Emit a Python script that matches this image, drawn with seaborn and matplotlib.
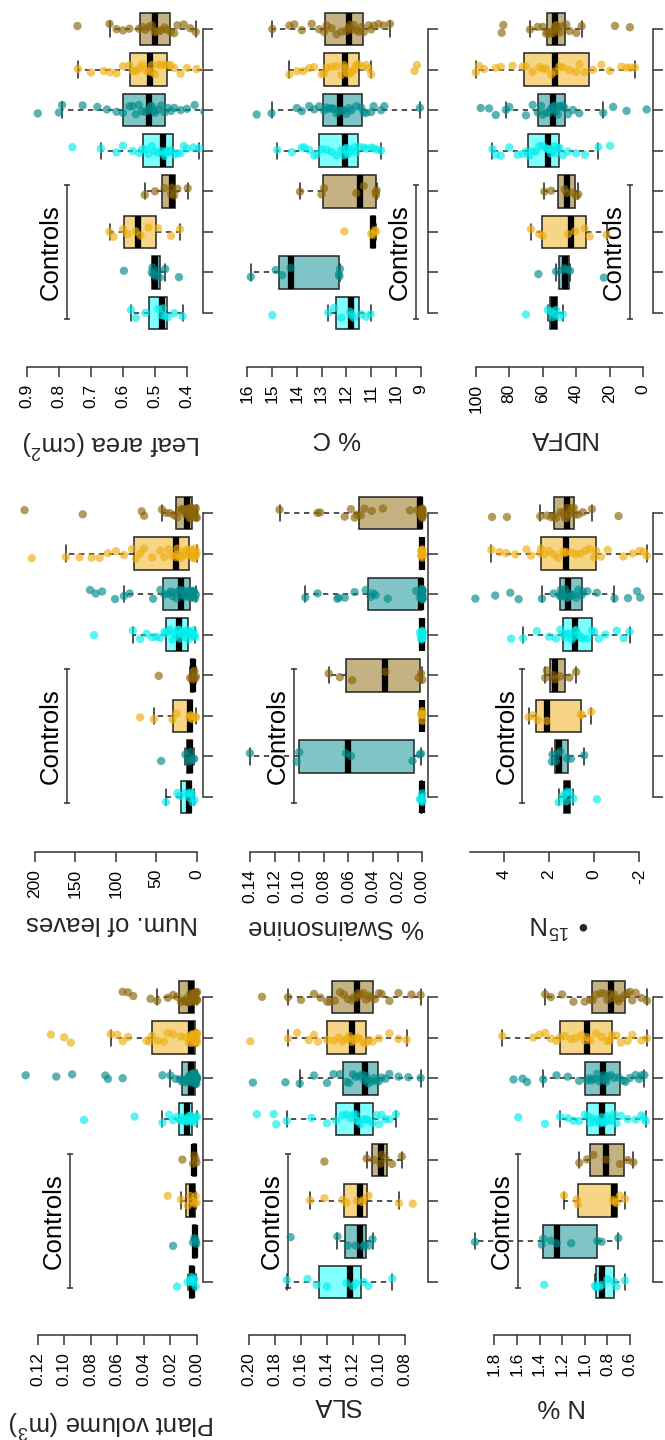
import numpy as np
import pandas as pd
import matplotlib
matplotlib.use("Agg")
import matplotlib.pyplot as plt
import seaborn as sns

# ---------------- data (groups from bottom to top of each panel) ----------------
groups = ["Ctrl cyan", "Ctrl teal", "Ctrl gold", "Ctrl brown",
          "Cyan", "Teal", "Gold", "Brown"]
point_colors = ["#00EEEE", "#008B8B", "#EEAD0E", "#8B6508"] * 2
fill_colors = ["#80FFFF", "#80C5C5", "#F6D686", "#C5B283"] * 2

plant_volume = [
    [0.001, 0.002, 0.003, 0.004, 0.004, 0.005, 0.007, 0.015],
    [0.0005, 0.001, 0.0015, 0.002, 0.003, 0.018],
    [0.0005, 0.001, 0.002, 0.003, 0.005, 0.007, 0.012, 0.022],
    [0.0005, 0.001, 0.002, 0.003, 0.011],
    [0.0, 0.001, 0.002, 0.002, 0.003, 0.003, 0.004, 0.005, 0.005, 0.006, 0.007, 0.007,
     0.008, 0.009, 0.010, 0.011, 0.012, 0.013, 0.015, 0.018, 0.021, 0.026, 0.047, 0.085],
    [0, 0, 0, 0.0005, 0.0005, 0.001, 0.001, 0.001, 0.0015, 0.0015, 0.002, 0.002, 0.0025,
     0.003, 0.003, 0.003, 0.0035, 0.004, 0.004, 0.0045, 0.005, 0.005, 0.006, 0.006, 0.007,
     0.008, 0.009, 0.0095, 0.010, 0.011, 0.013, 0.016, 0.020, 0.026, 0.056, 0.067, 0.069,
     0.094, 0.106, 0.129],
    [0, 0, 0, 0.0005, 0.0005, 0.001, 0.001, 0.001, 0.0015, 0.0015, 0.002, 0.002, 0.0025,
     0.003, 0.003, 0.0035, 0.004, 0.004, 0.0045, 0.005, 0.006, 0.008, 0.012, 0.018, 0.022,
     0.025, 0.030, 0.034, 0.036, 0.038, 0.052, 0.056, 0.060, 0.065, 0.095, 0.100, 0.110],
    [0, 0, 0, 0.0005, 0.001, 0.001, 0.0015, 0.002, 0.002, 0.0025, 0.003, 0.003, 0.0035,
     0.004, 0.004, 0.0045, 0.005, 0.006, 0.007, 0.008, 0.009, 0.010, 0.012, 0.015, 0.018,
     0.022, 0.030, 0.035, 0.048, 0.052, 0.056],
]

num_leaves = [
    [3, 5, 6, 8, 9, 10, 14, 21, 24, 38],
    [3, 5, 7, 8, 10, 14, 44],
    [1, 2, 5, 7, 8, 9, 25, 30, 53, 70],
    [1, 2, 3, 4, 5, 6, 8, 47],
    [2, 3, 4, 5, 6, 8, 9, 10, 11, 12, 14, 15, 17, 18, 20, 21, 22, 23, 25, 27, 30, 33, 35,
     38, 40, 45, 50, 55, 62, 70, 79, 127],
    [1, 2, 3, 4, 5, 5, 6, 7, 9, 10, 12, 13, 14, 15, 16, 18, 20, 22, 25, 28, 30, 32, 35, 40,
     45, 54, 83, 90, 101, 117, 125, 132],
    [0, 1, 2, 3, 4, 5, 6, 7, 8, 10, 12, 15, 18, 20, 22, 24, 25, 26, 30, 35, 40, 45, 55, 65,
     70, 75, 80, 90, 100, 110, 120, 130, 145, 162, 204],
    [0, 1, 1, 2, 3, 4, 5, 5, 6, 7, 8, 9, 10, 11, 11, 12, 13, 14, 15, 17, 19, 21, 24, 28, 33,
     38, 43, 65, 68, 141, 213],
]

leaf_area = [
    [0.414, 0.44, 0.46, 0.47, 0.475, 0.48, 0.49, 0.53, 0.56, 0.575],
    [0.425, 0.468, 0.485, 0.49, 0.50, 0.505, 0.508, 0.51, 0.597],
    [0.422, 0.45, 0.49, 0.52, 0.545, 0.56, 0.586, 0.60, 0.63, 0.642],
    [0.398, 0.43, 0.44, 0.446, 0.45, 0.47, 0.50, 0.532],
    [0.362, 0.38, 0.40, 0.41, 0.42, 0.43, 0.44, 0.45, 0.46, 0.46, 0.465, 0.47, 0.47, 0.48,
     0.49, 0.50, 0.51, 0.52, 0.53, 0.54, 0.55, 0.57, 0.60, 0.62, 0.669, 0.758],
    [0.346, 0.376, 0.40, 0.42, 0.44, 0.45, 0.46, 0.47, 0.48, 0.49, 0.50, 0.505, 0.51, 0.515,
     0.52, 0.53, 0.54, 0.55, 0.56, 0.57, 0.58, 0.60, 0.62, 0.65, 0.68, 0.726, 0.79, 0.80,
     0.866],
    [0.34, 0.37, 0.40, 0.42, 0.44, 0.45, 0.46, 0.47, 0.48, 0.49, 0.50, 0.51, 0.51, 0.52,
     0.53, 0.54, 0.55, 0.56, 0.57, 0.58, 0.60, 0.62, 0.64, 0.66, 0.70, 0.741],
    [0.373, 0.39, 0.41, 0.43, 0.44, 0.45, 0.46, 0.47, 0.48, 0.49, 0.50, 0.50, 0.51, 0.52,
     0.53, 0.54, 0.55, 0.58, 0.60, 0.62, 0.642, 0.742],
]

sla = [
    [0.0897, 0.108, 0.112, 0.118, 0.120, 0.125, 0.14, 0.148, 0.155, 0.171],
    [0.105, 0.108, 0.111, 0.112, 0.118, 0.124, 0.132, 0.168],
    [0.074, 0.0846, 0.108, 0.112, 0.113, 0.117, 0.125, 0.128, 0.142, 0.153],
    [0.0825, 0.09, 0.095, 0.098, 0.099, 0.104, 0.1095, 0.142],
    [0.087, 0.092, 0.095, 0.098, 0.100, 0.102, 0.105, 0.108, 0.110, 0.112, 0.114, 0.116,
     0.117, 0.118, 0.120, 0.122, 0.125, 0.128, 0.133, 0.140, 0.152, 0.171, 0.179, 0.181,
     0.194],
    [0.068, 0.0774, 0.085, 0.092, 0.095, 0.098, 0.100, 0.102, 0.104, 0.106, 0.108, 0.109,
     0.110, 0.111, 0.113, 0.115, 0.118, 0.120, 0.123, 0.125, 0.130, 0.135, 0.140, 0.150,
     0.161, 0.172, 0.197],
    [0.0787, 0.085, 0.092, 0.100, 0.105, 0.108, 0.110, 0.112, 0.115, 0.117, 0.119, 0.120,
     0.121, 0.123, 0.125, 0.128, 0.131, 0.135, 0.140, 0.147, 0.150, 0.154, 0.163, 0.170,
     0.199],
    [0.068, 0.075, 0.085, 0.092, 0.098, 0.100, 0.103, 0.106, 0.108, 0.110, 0.112, 0.114,
     0.116, 0.117, 0.119, 0.121, 0.124, 0.127, 0.130, 0.134, 0.138, 0.140, 0.145, 0.150,
     0.160, 0.170, 0.190],
]

swainsonine = [
    [0, 0, 0, 0, 0.001, 0.002],
    [0.001, 0.002, 0.008, 0.058, 0.062, 0.100, 0.102, 0.140],
    [0, 0, 0, 0, 0.001],
    [0.0, 0.001, 0.003, 0.030, 0.057, 0.067, 0.076],
    [0, 0, 0, 0, 0, 0, 0, 0, 0.001, 0.001, 0.002],
    [0, 0, 0, 0, 0, 0, 0, 0, 0, 0, 0, 0, 0.0005, 0.001, 0.002, 0.005, 0.028, 0.038, 0.040,
     0.042, 0.046, 0.055, 0.063, 0.068, 0.069, 0.085, 0.095],
    [0, 0, 0, 0, 0, 0, 0, 0, 0, 0.001, 0.001],
    [0, 0, 0, 0, 0, 0, 0, 0, 0, 0, 0, 0, 0.001, 0.002, 0.004, 0.010, 0.032, 0.041, 0.047,
     0.050, 0.053, 0.055, 0.058, 0.063, 0.083, 0.085, 0.116],
]

carbon = [
    [11.02, 11.2, 11.4, 11.7, 11.8, 11.85, 12.2, 12.5, 12.73, 14.99],
    [12.26, 12.28, 12.3, 14.25, 14.6, 14.85, 15.86],
    [10.8, 10.85, 10.94, 11.0, 12.08],
    [10.78, 10.80, 10.82, 11.3, 11.6, 12.9, 13.0, 13.87],
    [10.6, 10.75, 10.9, 11.0, 11.2, 11.3, 11.5, 11.6, 11.7, 11.8, 11.9, 11.95, 12.0, 12.05,
     12.1, 12.2, 12.4, 12.6, 12.8, 13.0, 13.2, 13.3, 13.5, 13.7, 13.8, 14.2, 14.79],
    [9.03, 10.47, 10.6, 10.9, 11.0, 11.2, 11.3, 11.4, 11.6, 11.8, 11.9, 12.0, 12.1, 12.2,
     12.3, 12.4, 12.5, 12.6, 12.7, 12.8, 12.9, 13.1, 13.3, 13.5, 13.8, 14.0, 15.02, 15.62],
    [9.15, 9.25, 11.0, 11.1, 11.2, 11.35, 11.5, 11.6, 11.7, 11.8, 11.9, 12.0, 12.06, 12.1,
     12.2, 12.4, 12.6, 12.8, 12.9, 13.0, 13.3, 13.5, 13.74, 14.0, 14.3],
    [10.24, 10.5, 10.7, 10.9, 11.0, 11.1, 11.3, 11.4, 11.5, 11.6, 11.7, 11.8, 11.85, 11.9,
     12.0, 12.2, 12.4, 12.6, 12.8, 12.9, 13.1, 13.4, 13.8, 14.1, 14.3, 14.99],
]

nitrogen = [
    [0.644, 0.72, 0.74, 0.80, 0.85, 0.87, 0.90, 0.91, 1.358],
    [0.703, 0.85, 0.889, 1.12, 1.249, 1.30, 1.367, 1.38, 1.971],
    [0.644, 0.69, 0.72, 0.739, 0.75, 1.06, 1.07, 1.184],
    [0.57, 0.62, 0.688, 0.812, 0.924, 0.98, 1.048],
    [0.46, 0.48, 0.50, 0.55, 0.62, 0.68, 0.72, 0.74, 0.76, 0.78, 0.80, 0.82, 0.83, 0.84,
     0.85, 0.87, 0.89, 0.91, 0.93, 0.95, 0.97, 1.0, 1.05, 1.10, 1.15, 1.219, 1.352, 1.588],
    [0.473, 0.50, 0.52, 0.55, 0.60, 0.64, 0.66, 0.70, 0.74, 0.77, 0.80, 0.81, 0.82, 0.83,
     0.85, 0.87, 0.89, 0.92, 0.94, 0.96, 0.98, 1.05, 1.15, 1.25, 1.367, 1.51, 1.55, 1.63],
    [0.45, 0.50, 0.58, 0.62, 0.68, 0.72, 0.76, 0.78, 0.80, 0.85, 0.90, 0.95, 0.98, 1.00,
     1.03, 1.08, 1.12, 1.18, 1.22, 1.25, 1.30, 1.35, 1.40, 1.455, 1.729],
    [0.45, 0.50, 0.55, 0.58, 0.60, 0.62, 0.65, 0.68, 0.70, 0.72, 0.74, 0.76, 0.78, 0.80,
     0.83, 0.86, 0.90, 0.93, 0.95, 1.0, 1.1, 1.2, 1.3, 1.35],
]

d15n = [
    [-0.12, 0.92, 1.1, 1.2, 1.24, 1.3, 1.4, 1.58],
    [0.44, 1.03, 1.21, 1.5, 1.62, 1.7, 1.85, 1.88],
    [0.13, 0.55, 0.6, 2.1, 2.5, 2.7, 2.91],
    [0.80, 1.1, 1.5, 1.73, 1.8, 2.1, 2.17],
    [-1.57, -1.3, -1.0, -0.5, -0.2, 0.0, 0.1, 0.3, 0.5, 0.6, 0.7, 0.8, 0.85, 0.9, 1.0, 1.1,
     1.2, 1.3, 1.4, 1.5, 1.7, 2.0, 2.54, 3.16, 3.68],
    [-2.04, -1.9, -1.5, -0.9, -0.12, 0.3, 0.5, 0.55, 0.7, 0.8, 0.9, 1.0, 1.1, 1.14, 1.2, 1.3,
     1.4, 1.45, 1.48, 1.5, 1.52, 1.8, 2.32, 3.35, 3.72, 4.39, 5.27],
    [-2.33, -2.2, -2.0, -1.7, -1.3, -0.6, -0.3, -0.09, 0.0, 0.2, 0.4, 0.6, 0.8, 1.0, 1.24,
     1.3, 1.4, 1.6, 1.8, 2.0, 2.2, 2.35, 2.4, 2.8, 3.0, 3.5, 3.9, 4.2, 4.56],
    [-1.08, 0.10, 0.5, 0.7, 0.85, 0.9, 1.0, 1.1, 1.15, 1.2, 1.22, 1.3, 1.4, 1.5, 1.7, 1.8,
     1.9, 2.1, 2.39, 3.87, 4.53],
]

ndfa = [
    [48, 50, 52, 53, 54, 55, 57, 70],
    [23.5, 43.7, 45, 47, 48, 52, 62.6],
    [21.9, 32, 35, 40.8, 45, 60, 62, 67],
    [38.8, 40, 42, 45.7, 47, 55, 59],
    [19.9, 26.8, 34.8, 40, 45, 48, 50, 51, 52, 53, 54, 55, 56, 57, 58, 60, 62, 64, 66, 68,
     70, 72, 75, 80, 85, 88, 90],
    [-2, 10, 18, 23.9, 38.2, 42, 45, 47, 48, 49, 50, 51, 52, 53, 53.7, 54, 55, 56, 58, 60,
     61, 63, 66, 70, 80, 82, 88, 92, 97],
    [5, 7.6, 10, 13, 20, 25, 30, 35, 38, 40, 44, 48, 50, 52.7, 55, 58, 60, 62, 66, 70, 72,
     78, 85, 88, 95, 98, 100],
    [8, 16.9, 36.8, 40, 44, 46, 48, 50, 51, 52, 52.1, 53, 54, 55, 56, 57, 58, 60, 63, 67.6,
     83.5, 84.5],
]

# tick values and labels
pv_ticks = [0.00, 0.02, 0.04, 0.06, 0.08, 0.10, 0.12]
pv_labels = ["0.00", "0.02", "0.04", "0.06", "0.08", "0.10", "0.12"]
nl_ticks = [0, 50, 100, 150, 200]
nl_labels = ["0", "50", "100", "150", "200"]
la_ticks = [0.4, 0.5, 0.6, 0.7, 0.8, 0.9]
la_labels = ["0.4", "0.5", "0.6", "0.7", "0.8", "0.9"]
sla_ticks = [0.08, 0.10, 0.12, 0.14, 0.16, 0.18, 0.20]
sla_labels = ["0.08", "0.10", "0.12", "0.14", "0.16", "0.18", "0.20"]
sw_ticks = [0.00, 0.02, 0.04, 0.06, 0.08, 0.10, 0.12, 0.14]
sw_labels = ["0.00", "0.02", "0.04", "0.06", "0.08", "0.10", "0.12", "0.14"]
c_ticks = [9, 10, 11, 12, 13, 14, 15, 16]
c_labels = ["9", "10", "11", "12", "13", "14", "15", "16"]
n_ticks = [0.6, 0.8, 1.0, 1.2, 1.4, 1.6, 1.8]
n_labels = ["0.6", "0.8", "1.0", "1.2", "1.4", "1.6", "1.8"]
d15_ticks = [-2, 0, 2, 4]
d15_labels = ["-2", "0", "2", "4"]
ndfa_ticks = [0, 20, 40, 60, 80, 100]
ndfa_labels = ["0", "20", "40", "60", "80", "100"]

# ---------------- style ----------------
sns.set_style("white")
plt.rcParams["font.family"] = ["Liberation Sans", "DejaVu Sans"]
plt.rcParams["mathtext.default"] = "regular"

W, H = 665, 1440
fig = plt.figure(figsize=(W / 100, H / 100), dpi=100)
AX = "#333333"

col_x = [(20, 203), (245, 428), (470, 653)]           # plot region in pixels
row_y = {"bottom": (1282, 997, 1335), "middle": (797, 513, 852), "top": (313, 29, 367)}

# (data, col, row, ticks, labels, ref value, ref pixel, px per unit, spine bounds,
#  axis label, label offset, controls value)
panels = [
    (plant_volume, 0, "bottom", pv_ticks, pv_labels, 0.0, 197.0, 1328.0, (0, 0.12),
     "Plant volume (m$^{3}$)", 88, 0.096),
    (num_leaves, 0, "middle", nl_ticks, nl_labels, 0.0, 196.7, 0.8083, (0, 200),
     "Num. of leaves", 71, 160),
    (leaf_area, 0, "top", la_ticks, la_labels, 0.4, 187.0, 320.2, (0.4, 0.9),
     "Leaf area (cm$^{2}$)", 76, 0.775),
    (sla, 1, "bottom", sla_ticks, sla_labels, 0.08, 405.0, 1300.0, (0.08, 0.20),
     "SLA", 70, 0.170),
    (swainsonine, 1, "middle", sw_ticks, sw_labels, 0.0, 422.3, 1231.0, (0, 0.14),
     "% Swainsonine", 75, 0.104),
    (carbon, 1, "top", c_ticks, c_labels, 9.0, 420.7, 24.77, (9, 16),
     "% C", 71, 9.19),
    (nitrogen, 2, "bottom", n_ticks, n_labels, 0.6, 630.0, 113.1, (0.6, 1.8),
     "N %", 71, 1.593),
    (d15n, 2, "middle", d15_ticks, d15_labels, -2.0, 639.3, 22.55, (-2, 5.5),
     "\u2022 $^{15}$N", 71, 3.18),
    (ndfa, 2, "top", ndfa_ticks, ndfa_labels, 0.0, 643.3, 1.676, (0, 100),
     "NDFA", 71, 7.95),
]

np.random.seed(7)
EXT = 0.82
for (vals, c, r, ticks, tlabels, vref, pref, scale, bounds, label, loff, ctrl_v) in panels:
    xl, xr = col_x[c]
    g1, g8, axis_y = row_y[r]
    sp = (g1 - g8) / 7.0
    yb = g1 + EXT * sp
    yt = g8 - EXT * sp
    ax = fig.add_axes([xl / W, 1 - yb / H, (xr - xl) / W, (yb - yt) / H])

    df = pd.DataFrame({
        "group": [groups[i] for i, v in enumerate(vals) for _ in v],
        "value": [x for v in vals for x in v],
    })
    sns.boxplot(data=df, x="value", y="group", hue="group", order=groups,
                hue_order=groups, palette=fill_colors, saturation=1, width=0.8,
                linewidth=1.1, linecolor="#222222", showfliers=False, legend=False,
                orient="h", ax=ax,
                medianprops={"color": "black", "linewidth": 4.5,
                             "solid_capstyle": "butt"},
                whiskerprops={"linestyle": (0, (3.5, 3))},
                capprops={"linestyle": "-"})
    sns.stripplot(data=df, x="value", y="group", hue="group", order=groups,
                  hue_order=groups, palette=point_colors, jitter=0.13, size=6,
                  alpha=0.65, linewidth=0, legend=False, orient="h", ax=ax, zorder=4)

    vl = vref + (pref - xl) / scale
    vr = vref + (pref - xr) / scale
    ax.set_xlim(vl, vr)
    ax.set_ylim(-EXT, 7 + EXT)
    ax.set_xlabel("")
    ax.set_ylabel("")
    ax.set_facecolor("none")

    ax.spines["left"].set_visible(False)
    ax.spines["top"].set_visible(False)
    for s in ("right", "bottom"):
        ax.spines[s].set_color(AX)
        ax.spines[s].set_linewidth(1.1)
    ax.spines["right"].set_bounds(0, 7)
    ax.yaxis.tick_right()
    ax.set_yticks(range(8))
    ax.set_yticklabels([])
    ax.tick_params(axis="y", direction="out", length=7.2, width=1.1, colors=AX,
                   left=False, right=True)

    ax.spines["bottom"].set_position(("outward", (axis_y - yb) * 0.72))
    ax.spines["bottom"].set_bounds(*bounds)
    ax.set_xticks(ticks)
    ax.set_xticklabels(tlabels, rotation=90, fontsize=12.5)
    ax.tick_params(axis="x", direction="out", length=7.2, width=1.1, colors=AX,
                   labelcolor="black", pad=5, bottom=True)

    # Controls bracket
    ax.plot([ctrl_v, ctrl_v], [-0.15, 3.15], color=AX, lw=1.1, clip_on=False)
    ax.plot([ctrl_v, ctrl_v], [-0.15, 3.15], ls="none", marker="_", ms=5, mew=1.1,
            color=AX, clip_on=False)
    ax.annotate("Controls", xy=(ctrl_v, 1.5), xytext=(-3, 0),
                textcoords="offset points", rotation=90, ha="right", va="center",
                fontsize=18.5, color="black")

    # axis label (figure rotated, so label is upside down)
    fig.text((xl + xr) / 2 / W, 1 - (axis_y + loff) / H, label, rotation=180,
             ha="center", va="center", fontsize=18.5)

fig.savefig("out.png", dpi=100)
